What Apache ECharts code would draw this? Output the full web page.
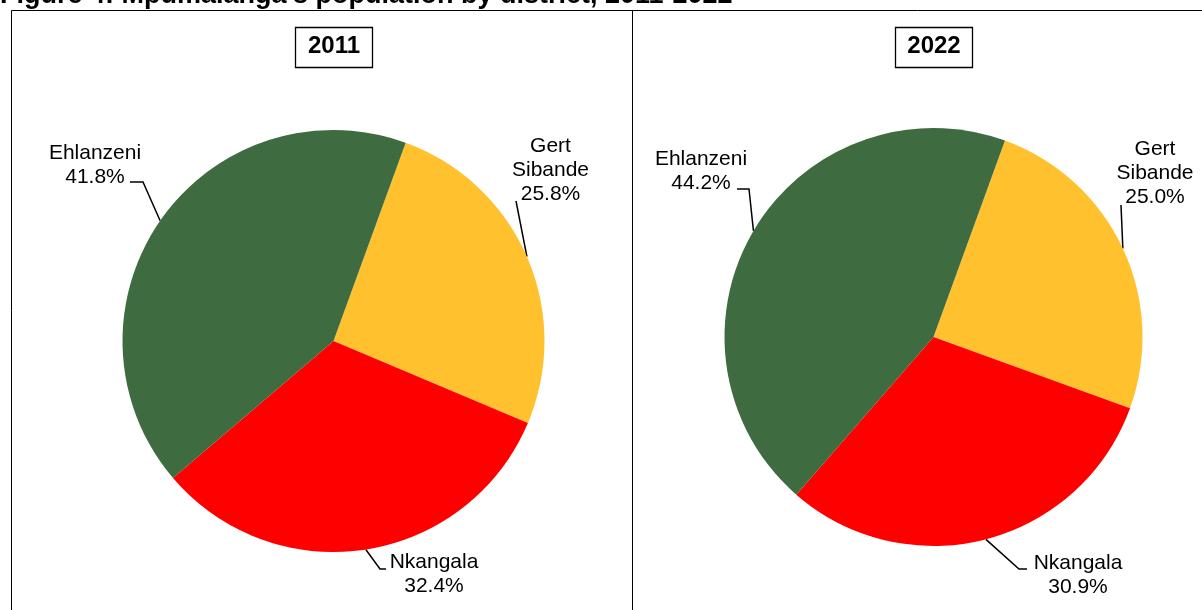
<!DOCTYPE html>
<html>
<head>
<meta charset="utf-8">
<script src="https://cdn.jsdelivr.net/npm/echarts@6/dist/echarts.min.js"></script>
<style>
  html, body { margin: 0; padding: 0; background: #ffffff; }
  #chart { width: 1202px; height: 610px; }
</style>
</head>
<body>
<div id="chart"></div>
<script>
// Population share (%) of Mpumalanga by district
const districts = ['Gert Sibande', 'Nkangala', 'Ehlanzeni'];
const share2011 = [25.8, 32.4, 41.8];
const share2022 = [25.0, 30.9, 44.2];
const years = ['2011', '2022'];
const districtColors = ['#FFC22E', '#FF0000', '#3E6B3F'];
const figureTitle = "Figure 4: Mpumalanga's population by district, 2011-2022";

const FONT = "'Liberation Sans', Arial, Helvetica, sans-serif";

// Panel frames and pie placement
const panels = [
  { cx: 333.5, cy: 341, r: 211, frameX: 11.5, frameW: 621, boxX: 295.5 },
  { cx: 933.5, cy: 337, r: 209, frameX: 632.5, frameW: 600, boxX: 895.5 }
];

// Label block centres and the bends of their leader lines (after the slice edge point)
const labelSpots = [
  [
    { x: 550.5, y: 170.5, bend: [[516, 201]] },
    { x: 434, y: 574.5, bend: [[380, 569], [386, 569]] },
    { x: 95, y: 165, bend: [[143, 182], [130, 182]] }
  ],
  [
    { x: 1155, y: 173, bend: [[1121, 205]] },
    { x: 1078, y: 575.5, bend: [[1019, 569], [1027, 569]] },
    { x: 701, y: 171, bend: [[749, 189], [737, 189]] }
  ]
];

function pieSeries(k, values) {
  const p = panels[k];
  return {
    type: 'pie',
    name: years[k],
    center: [p.cx, p.cy],
    radius: p.r,
    startAngle: 70,
    clockwise: true,
    avoidLabelOverlap: false,
    animation: false,
    silent: true,
    itemStyle: { borderWidth: 0 },
    data: districts.map((d, i) => ({
      name: d,
      value: values[i],
      itemStyle: { color: districtColors[i] }
    })),
    label: {
      show: true,
      position: 'outside',
      formatter: (prm) => prm.name.replace(' ', '\n') + '\n' + prm.value.toFixed(1) + '%',
      color: '#000000',
      fontFamily: FONT,
      fontSize: 21,
      lineHeight: 24,
      align: 'center'
    },
    labelLine: {
      show: true,
      length: 10,
      length2: 10,
      lineStyle: { color: '#000000', width: 1.5 }
    },
    labelLayout: (prm) => {
      const spot = labelSpots[k][prm.dataIndex];
      const pts = [prm.labelLinePoints[0]].concat(spot.bend);
      return {
        x: spot.x,
        y: spot.y,
        align: 'center',
        verticalAlign: 'middle',
        labelLinePoints: pts
      };
    },
    emphasis: { disabled: true }
  };
}

const frameGraphics = [];
panels.forEach((p, k) => {
  frameGraphics.push({
    type: 'rect',
    silent: true,
    shape: { x: p.frameX, y: 10.5, width: p.frameW, height: 640 },
    style: { fill: 'none', stroke: '#000000', lineWidth: 1 }
  });
  frameGraphics.push({
    type: 'rect',
    silent: true,
    shape: { x: p.boxX, y: 27.5, width: 77, height: 40 },
    style: { fill: '#ffffff', stroke: '#000000', lineWidth: 1.3 }
  });
  frameGraphics.push({
    type: 'text',
    silent: true,
    style: {
      x: p.boxX + 38.5,
      y: 46.5,
      text: years[k],
      font: 'bold 24px ' + FONT,
      fill: '#000000',
      align: 'center',
      verticalAlign: 'middle'
    }
  });
});
frameGraphics.push({
  type: 'text',
  silent: true,
  style: {
    x: 0,
    y: -4,
    text: figureTitle,
    font: 'bold 27px ' + FONT,
    fill: '#000000',
    align: 'left',
    verticalAlign: 'middle'
  }
});

const chart = echarts.init(document.getElementById('chart'), null, { renderer: 'canvas' });
chart.setOption({
  backgroundColor: '#ffffff',
  animation: false,
  series: [pieSeries(0, share2011), pieSeries(1, share2022)],
  graphic: { elements: frameGraphics }
});
</script>
</body>
</html>
